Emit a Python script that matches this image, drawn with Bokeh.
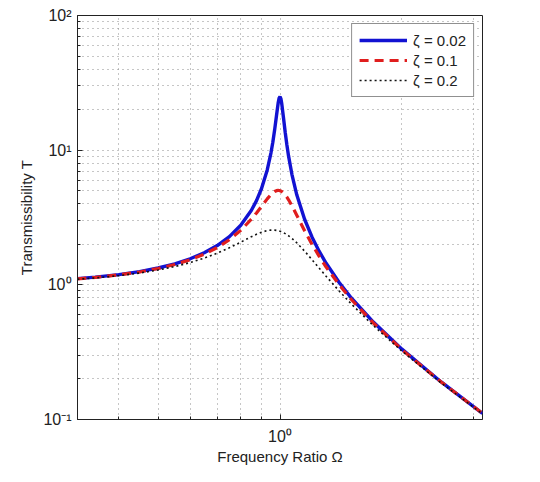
from bokeh.plotting import figure
from bokeh.models import (FixedTicker, CustomJSTickFormatter, Legend, LegendItem,
                          Range1d, ColumnDataSource)
from bokeh.embed import file_html
from bokeh.resources import INLINE

# ---- data ----
omega = [0.316, 0.35, 0.4, 0.45, 0.5, 0.55, 0.6, 0.65, 0.7, 0.75, 0.8, 0.85, 0.875,
         0.9, 0.93, 0.95, 0.96, 0.97, 0.98, 0.99, 0.995, 1.0, 1.005, 1.01, 1.02,
         1.03, 1.04, 1.05, 1.07, 1.1, 1.15, 1.2, 1.25, 1.3, 1.4, 1.5, 1.7, 2.0,
         2.5, 3.162]
T_002 = [1.111, 1.140, 1.190, 1.254, 1.333, 1.433, 1.561, 1.730, 1.958, 2.280,
         2.767, 3.577, 4.220, 5.171, 7.136, 9.556, 11.45, 14.15, 17.95, 22.57,
         24.37, 25.0, 24.14, 22.16, 17.42, 13.60, 10.92, 9.028, 6.619, 4.661,
         3.070, 2.259, 1.771, 1.445, 1.040, 0.799, 0.529, 0.333, 0.190, 0.111]
T_01 = [1.108, 1.136, 1.185, 1.246, 1.322, 1.416, 1.536, 1.689, 1.891, 2.162,
        2.538, 3.073, 3.419, 3.821, 4.350, 4.683, 4.822, 4.931, 5.001, 5.025,
        5.019, 5.0, 4.969, 4.926, 4.809, 4.655, 4.476, 4.279, 3.869, 3.288,
        2.525, 1.995, 1.625, 1.356, 1.000, 0.778, 0.521, 0.330, 0.190, 0.111]
T_02 = [1.100, 1.125, 1.170, 1.223, 1.288, 1.367, 1.463, 1.579, 1.719, 1.885,
        2.076, 2.279, 2.374, 2.457, 2.527, 2.549, 2.552, 2.548, 2.538, 2.522,
        2.512, 2.5, 2.487, 2.472, 2.439, 2.401, 2.359, 2.313, 2.213, 2.051,
        1.780, 1.536, 1.329, 1.157, 0.900, 0.721, 0.498, 0.322, 0.187, 0.110]
series_labels = ["\u03b6 = 0.02", "\u03b6 = 0.1", "\u03b6 = 0.2"]
x_major = [1.0]
x_minor = [0.4, 0.5, 0.6, 0.7, 0.8, 0.9, 2, 3]
y_major = [0.1, 1, 10, 100]
y_minor = [0.2, 0.3, 0.4, 0.5, 0.6, 0.7, 0.8, 0.9,
           2, 3, 4, 5, 6, 7, 8, 9,
           20, 30, 40, 50, 60, 70, 80, 90]
x_label = "Frequency Ratio \u03a9"
y_label = "Transmissibility T"

FONT = "Liberation Sans"

p = figure(width=532, height=474, x_axis_type="log", y_axis_type="log",
           x_range=Range1d(10 ** -0.5, 10 ** 0.5), y_range=Range1d(0.1, 100),
           output_backend="svg", toolbar_location=None,
           min_border_left=77, min_border_right=50, min_border_top=15,
           min_border_bottom=55)
p.background_fill_color = "white"
p.border_fill_color = "white"
p.outline_line_color = "#222222"
p.outline_line_width = 1

sup_code = """
const e = Math.round(Math.log10(tick));
const sup = {'-':'\u207b','0':'\u2070','1':'\u00b9','2':'\u00b2','3':'\u00b3','4':'\u2074','5':'\u2075','6':'\u2076','7':'\u2077','8':'\u2078','9':'\u2079'};
return '10' + String(e).split('').map(c => sup[c]).join('');
"""

p.xaxis.ticker = FixedTicker(ticks=x_major, minor_ticks=x_minor)
p.yaxis.ticker = FixedTicker(ticks=y_major, minor_ticks=y_minor)
for ax in (p.xaxis, p.yaxis):
    ax.formatter = CustomJSTickFormatter(code=sup_code)
    ax.major_tick_in = 5
    ax.major_tick_out = 0
    ax.minor_tick_in = 3
    ax.minor_tick_out = 0
    ax.axis_line_color = "#222222"
    ax.major_tick_line_color = "#222222"
    ax.minor_tick_line_color = "#222222"
    ax.major_label_text_font = FONT
    ax.major_label_text_font_size = "16px"
    ax.major_label_text_color = "#222222"
    ax.axis_label_text_font = FONT
    ax.axis_label_text_font_size = "15px"
    ax.axis_label_text_font_style = "normal"
    ax.axis_label_text_color = "#222222"
p.xaxis.axis_label = x_label
p.yaxis.axis_label = y_label
p.xaxis.major_label_standoff = 8
p.yaxis.major_label_standoff = 6
p.xaxis.axis_label_standoff = 0
p.yaxis.axis_label_standoff = 5

for g in (p.xgrid, p.ygrid):
    g.grid_line_color = "#8c8c8c"
    g.grid_line_dash = "1 4"
    g.grid_line_width = 1
    g.minor_grid_line_color = "#8c8c8c"
    g.minor_grid_line_dash = "1 4"
    g.minor_grid_line_width = 1

src = ColumnDataSource(dict(x=omega, a=T_002, b=T_01, c=T_02))
r1 = p.line("x", "a", source=src, line_color="#1212d2", line_width=3.4)
r2 = p.line("x", "b", source=src, line_color="#e01e1e", line_width=3.2,
            line_dash="9 6")
r3 = p.line("x", "c", source=src, line_color="#111111", line_width=1.6,
            line_dash="2 3")

legend = Legend(items=[LegendItem(label=series_labels[0], renderers=[r1]),
                       LegendItem(label=series_labels[1], renderers=[r2]),
                       LegendItem(label=series_labels[2], renderers=[r3])],
                location="top_right")
legend.margin = 8
legend.padding = 7
legend.spacing = 2
legend.glyph_width = 48
legend.glyph_height = 18
legend.label_standoff = 6
legend.label_text_font = FONT
legend.label_text_font_size = "15px"
legend.label_text_color = "#222222"
legend.border_line_color = "#222222"
legend.border_line_width = 1
legend.background_fill_color = "white"
legend.background_fill_alpha = 1.0
p.add_layout(legend)

open("out.html", "w").write(file_html(p, INLINE))
